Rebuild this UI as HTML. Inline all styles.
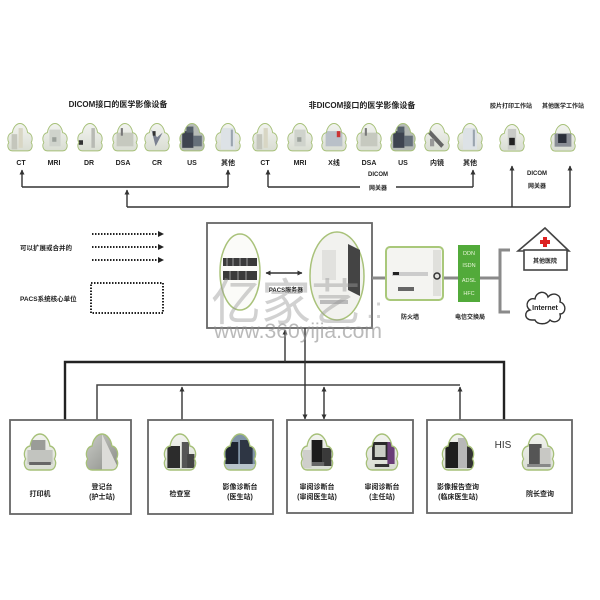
<!DOCTYPE html>
<html><head><meta charset="utf-8"><style>
html,body{margin:0;padding:0;background:#fff;width:600px;height:600px;overflow:hidden}
svg{display:block}
text{font-family:"Liberation Sans","Noto Sans CJK SC",sans-serif;fill:#222}
.l{font-size:7px;font-weight:bold;text-anchor:middle}
.t{font-size:8px;font-weight:bold;text-anchor:middle}
.s{font-size:6px;font-weight:bold;text-anchor:middle}
</style></head><body>
<svg width="600" height="600" viewBox="0 0 600 600" xmlns="http://www.w3.org/2000/svg">
<defs>
<marker id="a" viewBox="0 0 10 10" refX="9" refY="5" markerWidth="5" markerHeight="6" markerUnits="userSpaceOnUse" orient="auto-start-reverse"><path d="M0,0 L10,5 L0,10 z" fill="#333"/></marker>
<path id="cl" d="M9,38 C3,38 1,31 4,27 C1,22 3,15 9,14 C10,7 15,2 20,2 C25,2 30,7 31,14 C37,15 39,22 36,27 C39,31 37,38 31,38 Z"/>
<clipPath id="cc"><use href="#cl"/></clipPath>
<linearGradient id="gl" x1="0" y1="0" x2="0" y2="1"><stop offset="0" stop-color="#f2f3ef"/><stop offset="1" stop-color="#d9ddd3"/></linearGradient>
<linearGradient id="gd" x1="0" y1="0" x2="1" y2="1"><stop offset="0" stop-color="#c9cbc6"/><stop offset="1" stop-color="#8b8d88"/></linearGradient>
</defs>

<!-- titles -->
<text class="t" x="118" y="107">DICOM接口的医学影像设备</text>
<text class="t" x="362" y="108">非DICOM接口的医学影像设备</text>
<text class="s" x="511" y="108">胶片打印工作站</text>
<text class="s" x="563" y="108">其他医学工作站</text>

<!-- top clouds group 1 -->
<g transform="translate(6,122) scale(0.7,0.76)"><use href="#cl" fill="url(#gl)"/><g clip-path="url(#cc)"><rect x="8" y="16" width="8" height="20" fill="#c4c6bc"/><rect x="18" y="8" width="6" height="26" fill="#d8d6c4"/></g><use href="#cl" fill="none" stroke="#a6c078" stroke-width="1.3" vector-effect="non-scaling-stroke"/></g>
<g transform="translate(41,122) scale(0.7,0.76)"><use href="#cl" fill="url(#gl)"/><g clip-path="url(#cc)"><rect x="12" y="10" width="16" height="22" fill="#cfd3cc"/><rect x="16" y="20" width="6" height="6" fill="#9aa09a"/></g><use href="#cl" fill="none" stroke="#a6c078" stroke-width="1.3" vector-effect="non-scaling-stroke"/></g>
<g transform="translate(76,122) scale(0.7,0.76)"><use href="#cl" fill="url(#gl)"/><g clip-path="url(#cc)"><rect x="4" y="24" width="6" height="6" fill="#333"/><rect x="22" y="8" width="5" height="26" fill="#b8bab4"/></g><use href="#cl" fill="none" stroke="#a6c078" stroke-width="1.3" vector-effect="non-scaling-stroke"/></g>
<g transform="translate(111,122) scale(0.7,0.76)"><use href="#cl" fill="url(#gl)"/><g clip-path="url(#cc)"><rect x="8" y="14" width="24" height="18" fill="#c6c9bf"/><rect x="14" y="8" width="3" height="10" fill="#777"/></g><use href="#cl" fill="none" stroke="#a6c078" stroke-width="1.3" vector-effect="non-scaling-stroke"/></g>
<g transform="translate(143,122) scale(0.7,0.76)"><use href="#cl" fill="url(#gl)"/><g clip-path="url(#cc)"><path d="M12,10 L20,20 L28,14 L18,32 Z" fill="#7a8090"/><rect x="14" y="12" width="4" height="6" fill="#333"/></g><use href="#cl" fill="none" stroke="#a6c078" stroke-width="1.3" vector-effect="non-scaling-stroke"/></g>
<g transform="translate(178,122) scale(0.7,0.76)"><use href="#cl" fill="#b6bbb6"/><g clip-path="url(#cc)"><rect x="6" y="12" width="16" height="22" fill="#3e4450"/><rect x="22" y="18" width="12" height="14" fill="#66707a"/><rect x="12" y="6" width="10" height="8" fill="#55606a"/></g><use href="#cl" fill="none" stroke="#a6c078" stroke-width="1.3" vector-effect="non-scaling-stroke"/></g>
<g transform="translate(214,122) scale(0.7,0.76)"><use href="#cl" fill="url(#gl)"/><g clip-path="url(#cc)"><rect x="10" y="8" width="20" height="28" fill="#dde2e6"/><rect x="24" y="10" width="3" height="22" fill="#9aa4ae"/></g><use href="#cl" fill="none" stroke="#a6c078" stroke-width="1.3" vector-effect="non-scaling-stroke"/></g>

<!-- top clouds group 2 -->
<g transform="translate(251,122) scale(0.7,0.76)"><use href="#cl" fill="url(#gl)"/><g clip-path="url(#cc)"><rect x="8" y="16" width="8" height="20" fill="#c4c6bc"/><rect x="18" y="8" width="6" height="26" fill="#d8d6c4"/></g><use href="#cl" fill="none" stroke="#a6c078" stroke-width="1.3" vector-effect="non-scaling-stroke"/></g>
<g transform="translate(286,122) scale(0.7,0.76)"><use href="#cl" fill="url(#gl)"/><g clip-path="url(#cc)"><rect x="12" y="10" width="16" height="22" fill="#cfd3cc"/><rect x="16" y="20" width="6" height="6" fill="#9aa09a"/></g><use href="#cl" fill="none" stroke="#a6c078" stroke-width="1.3" vector-effect="non-scaling-stroke"/></g>
<g transform="translate(320,122) scale(0.7,0.76)"><use href="#cl" fill="url(#gl)"/><g clip-path="url(#cc)"><rect x="8" y="12" width="24" height="20" fill="#b9c0c8"/><rect x="24" y="12" width="5" height="8" fill="#c33"/></g><use href="#cl" fill="none" stroke="#a6c078" stroke-width="1.3" vector-effect="non-scaling-stroke"/></g>
<g transform="translate(355,122) scale(0.7,0.76)"><use href="#cl" fill="url(#gl)"/><g clip-path="url(#cc)"><rect x="8" y="14" width="24" height="18" fill="#c6c9bf"/><rect x="14" y="8" width="3" height="10" fill="#777"/></g><use href="#cl" fill="none" stroke="#a6c078" stroke-width="1.3" vector-effect="non-scaling-stroke"/></g>
<g transform="translate(389,122) scale(0.7,0.76)"><use href="#cl" fill="#b6bbb6"/><g clip-path="url(#cc)"><rect x="6" y="12" width="16" height="22" fill="#3e4450"/><rect x="22" y="18" width="12" height="14" fill="#66707a"/><rect x="12" y="6" width="10" height="8" fill="#55606a"/></g><use href="#cl" fill="none" stroke="#a6c078" stroke-width="1.3" vector-effect="non-scaling-stroke"/></g>
<g transform="translate(423,122) scale(0.7,0.76)"><use href="#cl" fill="url(#gl)"/><g clip-path="url(#cc)"><path d="M10,10 L30,30 L26,34 L6,14 Z" fill="#666"/><rect x="10" y="22" width="6" height="10" fill="#999"/></g><use href="#cl" fill="none" stroke="#a6c078" stroke-width="1.3" vector-effect="non-scaling-stroke"/></g>
<g transform="translate(456,122) scale(0.7,0.76)"><use href="#cl" fill="url(#gl)"/><g clip-path="url(#cc)"><rect x="10" y="8" width="20" height="28" fill="#dde2e6"/><rect x="24" y="10" width="3" height="22" fill="#9aa4ae"/></g><use href="#cl" fill="none" stroke="#a6c078" stroke-width="1.3" vector-effect="non-scaling-stroke"/></g>

<!-- right clouds -->
<g transform="translate(498,123) scale(0.7,0.74)"><use href="#cl" fill="url(#gl)"/><g clip-path="url(#cc)"><rect x="14" y="8" width="12" height="28" fill="#c8cac6"/><rect x="16" y="20" width="8" height="10" fill="#222"/></g><use href="#cl" fill="none" stroke="#a6c078" stroke-width="1.3" vector-effect="non-scaling-stroke"/></g>
<g transform="translate(549,123) scale(0.7,0.74)"><use href="#cl" fill="url(#gl)"/><g clip-path="url(#cc)"><rect x="8" y="14" width="24" height="18" fill="#8a8e96"/><rect x="13" y="15" width="12" height="12" fill="#2a2e3a"/></g><use href="#cl" fill="none" stroke="#a6c078" stroke-width="1.3" vector-effect="non-scaling-stroke"/></g>

<!-- top labels -->
<g class="l">
<text class="l" x="21" y="165">CT</text><text class="l" x="54" y="165">MRI</text><text class="l" x="89" y="165">DR</text><text class="l" x="123" y="165">DSA</text><text class="l" x="157" y="165">CR</text><text class="l" x="192" y="165">US</text><text class="l" x="228" y="165">其他</text>
<text class="l" x="265" y="165">CT</text><text class="l" x="300" y="165">MRI</text><text class="l" x="334" y="165">X线</text><text class="l" x="369" y="165">DSA</text><text class="l" x="403" y="165">US</text><text class="l" x="437" y="165">内镜</text><text class="l" x="470" y="165">其他</text>
</g>

<!-- top connectors -->
<g stroke="#333" stroke-width="1.4" fill="none">
<path d="M22,187 L22,170" marker-end="url(#a)"/>
<path d="M228,187 L228,170" marker-end="url(#a)"/>
<path d="M22,187 L228,187"/>
<path d="M127,207 L127,190" marker-end="url(#a)"/>
<path d="M127,207 L570,207"/>
<path d="M268,187 L268,170" marker-end="url(#a)"/>
<path d="M473,187 L473,170" marker-end="url(#a)"/>
<path d="M268,187 L360,187 M396,187 L473,187"/>
<path d="M512,207 L512,166" marker-end="url(#a)"/>
<path d="M570,207 L570,166" marker-end="url(#a)"/>
</g>
<text class="s" x="378" y="176">DICOM</text><text class="s" x="378" y="190">网关器</text>
<text class="s" x="537" y="175">DICOM</text><text class="s" x="537" y="188">网关器</text>

<!-- legend -->
<text x="20" y="250" style="font-size:6.5px;font-weight:bold">可以扩展或合并的</text>
<text x="20" y="301" style="font-size:6.5px;font-weight:bold">PACS系统核心单位</text>
<g stroke="#222" stroke-width="2" stroke-dasharray="1.5,1.5" fill="none">
<path d="M92,234 L159,234 M92,247 L159,247 M92,260 L159,260"/>
<rect x="91" y="283" width="72" height="30"/>
</g>
<g fill="#222"><path d="M158,231 L164,234 L158,237 Z M158,244 L164,247 L158,250 Z M158,257 L164,260 L158,263 Z"/></g>

<!-- PACS box -->
<rect x="207" y="223" width="165" height="105" fill="#fff" stroke="#666" stroke-width="1.8"/>
<ellipse cx="240" cy="272" rx="20" ry="38" fill="#fbfbf8" stroke="#a9c27a" stroke-width="1.5"/>
<rect x="223" y="258" width="34" height="8" fill="#3a3a3a"/>
<rect x="223" y="271" width="34" height="9" fill="#3a3a3a"/>
<g stroke="#999" stroke-width="1"><path d="M227,258 v8 M233,258 v8 M240,258 v8 M247,258 v8 M230,271 v9 M238,271 v9 M246,271 v9"/></g>
<ellipse cx="337" cy="276" rx="27" ry="44" fill="#f2f2ef" stroke="#a9c27a" stroke-width="1.5"/>
<rect x="322" y="250" width="14" height="30" fill="#e1e1de"/>
<path d="M348,244 L360,250 L360,296 L348,290 Z" fill="#444"/>
<rect x="320" y="300" width="28" height="4" fill="#bbb"/>
<path d="M266,273 L302,273" stroke="#333" stroke-width="1.4" marker-start="url(#a)" marker-end="url(#a)"/>
<text x="286" y="292" style="font-size:6px;font-weight:bold;text-anchor:middle">PACS服务器</text>

<!-- network right -->
<g stroke="#8a8a8a" stroke-width="3" fill="none">
<path d="M372,278 L385,278 M443,278 L458,278 M480,278 L500,278"/>
<path d="M510,250 L500,250 L500,312 L510,312"/>
</g>
<rect x="386" y="247" width="57" height="53" rx="4" fill="#f4f4f1" stroke="#a9c87a" stroke-width="2"/>
<rect x="392" y="272" width="36" height="4" fill="#ccc"/><rect x="393" y="272" width="6" height="3" fill="#222"/>
<rect x="433" y="250" width="8" height="46" fill="#e0e0dc"/><circle cx="437" cy="276" r="3" fill="none" stroke="#333" stroke-width="1.5"/>
<rect x="398" y="287" width="16" height="4" fill="#666"/>
<rect x="458" y="245" width="22" height="57" fill="#52aa3a"/>
<g style="font-size:5.5px;text-anchor:middle"><text x="469" y="255" style="fill:#e8f6d8">DDN</text><text x="469" y="267" style="fill:#e8f6d8">ISDN</text><text x="469" y="282" style="fill:#e8f6d8">ADSL</text><text x="469" y="295" style="fill:#e8f6d8">HFC</text></g>
<text class="s" x="410" y="319">防火墙</text><text class="s" x="470" y="319">电信交换局</text>
<path d="M518,251 L545,228 L569,251 Z" fill="#fff" stroke="#444" stroke-width="1.6"/>
<rect x="524" y="250" width="43" height="20" fill="#fff" stroke="#444" stroke-width="1.6"/>
<path d="M543,237 h4 v3 h3 v4 h-3 v3 h-4 v-3 h-3 v-4 h3 Z" fill="#d22"/>
<text class="s" x="545" y="263">其他医院</text>
<path d="M532,320 C524,320 524,311 530,310 C524,306 528,297 535,299 C536,291 546,290 548,297 C553,291 562,295 560,302 C567,304 566,314 560,314 C562,321 554,324 550,320 C547,325 537,325 535,320 Z" fill="#fff" stroke="#333" stroke-width="1.4"/>
<text x="545" y="310" style="font-size:7px;font-weight:bold;text-anchor:middle">Internet</text>

<!-- bus lines -->
<g stroke="#222" fill="none">
<path d="M65,420 L65,362 L504,362 L504,420" stroke-width="2.4"/>
<path d="M97,420 L97,385 L460,385" stroke-width="1.5" stroke="#444"/>
</g>
<g stroke="#333" stroke-width="1.4" fill="none">
<path d="M285,362 L285,330" marker-end="url(#a)"/>
<path d="M305,328 L305,419" marker-end="url(#a)"/>
<path d="M324,387 L324,419" marker-start="url(#a)" marker-end="url(#a)"/>
<path d="M182,420 L182,387" marker-end="url(#a)"/>
<path d="M460,420 L460,387" marker-end="url(#a)"/>
</g>

<!-- bottom boxes -->
<g fill="none" stroke="#666" stroke-width="1.8">
<rect x="10" y="420" width="121" height="94"/>
<rect x="148" y="420" width="125" height="94"/>
<rect x="287" y="420" width="126" height="93"/>
<rect x="427" y="420" width="145" height="93"/>
</g>

<!-- bottom clouds -->
<g transform="translate(22,432) scale(0.9,1)"><use href="#cl" fill="url(#gl)"/><g clip-path="url(#cc)"><rect x="6" y="18" width="28" height="14" fill="#c2c4bf"/><rect x="10" y="8" width="16" height="10" fill="#9a9c98"/><rect x="8" y="30" width="24" height="3" fill="#666"/></g><use href="#cl" fill="none" stroke="#a6c078" stroke-width="1.4" vector-effect="non-scaling-stroke"/></g>
<g transform="translate(84,432) scale(0.9,1)"><use href="#cl" fill="url(#gd)"/><g clip-path="url(#cc)"><path d="M20,2 L40,40 L20,40 Z" fill="#dcdcd8"/></g><use href="#cl" fill="none" stroke="#a6c078" stroke-width="1.4" vector-effect="non-scaling-stroke"/></g>
<g transform="translate(162,432) scale(0.9,1)"><use href="#cl" fill="url(#gl)"/><g clip-path="url(#cc)"><rect x="6" y="14" width="14" height="22" fill="#2c2c2c"/><rect x="22" y="10" width="8" height="26" fill="#555"/><rect x="28" y="22" width="8" height="14" fill="#444"/></g><use href="#cl" fill="none" stroke="#a6c078" stroke-width="1.4" vector-effect="non-scaling-stroke"/></g>
<g transform="translate(222,432) scale(0.9,1)"><use href="#cl" fill="#7f93a6"/><g clip-path="url(#cc)"><rect x="4" y="10" width="14" height="22" fill="#1e2430"/><rect x="20" y="8" width="14" height="24" fill="#2e3644"/><rect x="0" y="32" width="40" height="8" fill="#b8c4cc"/></g><use href="#cl" fill="none" stroke="#a6c078" stroke-width="1.4" vector-effect="non-scaling-stroke"/></g>
<g transform="translate(299,432) scale(0.9,1)"><use href="#cl" fill="url(#gl)"/><g clip-path="url(#cc)"><rect x="14" y="8" width="12" height="22" fill="#1c1c1c"/><rect x="26" y="16" width="10" height="18" fill="#3a3a3a"/><rect x="12" y="30" width="16" height="4" fill="#666"/><rect x="4" y="18" width="10" height="18" fill="#cfcfcb"/></g><use href="#cl" fill="none" stroke="#a6c078" stroke-width="1.4" vector-effect="non-scaling-stroke"/></g>
<g transform="translate(364,432) scale(0.9,1)"><use href="#cl" fill="url(#gl)"/><g clip-path="url(#cc)"><rect x="9" y="10" width="20" height="18" fill="#2a2a2a"/><rect x="12" y="13" width="12" height="12" fill="#c9cdc4"/><rect x="26" y="10" width="8" height="22" fill="#6a3e78"/><rect x="12" y="32" width="16" height="3" fill="#333"/></g><use href="#cl" fill="none" stroke="#a6c078" stroke-width="1.4" vector-effect="non-scaling-stroke"/></g>
<g transform="translate(440,432) scale(0.9,1)"><use href="#cl" fill="url(#gl)"/><g clip-path="url(#cc)"><rect x="6" y="10" width="20" height="26" fill="#1e1e1e"/><rect x="20" y="6" width="10" height="30" fill="#b8b8b8"/><rect x="30" y="14" width="8" height="22" fill="#333"/></g><use href="#cl" fill="none" stroke="#a6c078" stroke-width="1.4" vector-effect="non-scaling-stroke"/></g>
<g transform="translate(520,432) scale(0.9,1)"><use href="#cl" fill="url(#gl)"/><g clip-path="url(#cc)"><rect x="10" y="12" width="14" height="20" fill="#555"/><rect x="22" y="16" width="12" height="18" fill="#c8c8c4"/><rect x="8" y="32" width="26" height="3" fill="#888"/></g><use href="#cl" fill="none" stroke="#a6c078" stroke-width="1.4" vector-effect="non-scaling-stroke"/></g>
<text x="503" y="448" style="font-size:10px;text-anchor:middle;fill:#333">HIS</text>

<!-- bottom labels -->
<text class="l" x="40" y="496">打印机</text>
<text class="l" x="102" y="489">登记台</text><text class="l" x="102" y="499">(护士站)</text>
<text class="l" x="180" y="496">检查室</text>
<text class="l" x="240" y="489">影像诊断台</text><text class="l" x="240" y="499">(医生站)</text>
<text class="l" x="317" y="489">审阅诊断台</text><text class="l" x="317" y="499">(审阅医生站)</text>
<text class="l" x="382" y="489">审阅诊断台</text><text class="l" x="382" y="499">(主任站)</text>
<text class="l" x="458" y="489">影像报告查询</text><text class="l" x="458" y="499">(临床医生站)</text>
<text class="l" x="540" y="496">院长查询</text>

<!-- watermark -->
<text x="211" y="320" style="font-size:50px;fill:#9a9a9a;fill-opacity:0.45;font-family:'Noto Sans CJK SC',sans-serif">亿家艺</text>
<text x="366" y="318" style="font-size:30px;fill:#9a9a9a;fill-opacity:0.45">.:</text>
<text x="214" y="338" textLength="168" lengthAdjust="spacingAndGlyphs" style="font-size:21px;fill:#8c8c8c;fill-opacity:0.6">www.360yijia.com</text>
</svg>
</body></html>
